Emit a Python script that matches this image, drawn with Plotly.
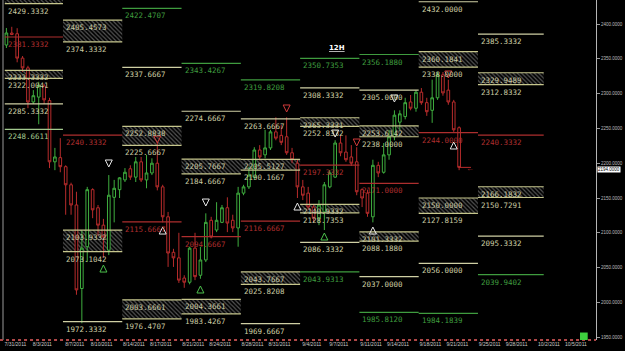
import plotly.graph_objects as go

# ---------------- data ----------------
# 12H candles, bar index counted from Sunday 7/31/2011 (11 bars per trading week)
opens = [2369.8, 2387, 2386, 2351, 2337, 2288, 2295, 2311, 2290, 2202,
         2208, 2195, 2169, 2140, 2020, 2080, 2162, 2136, 2111, 2075,
         2151, 2162, 2176, 2192, 2180, 2202, 2176, 2186, 2200, 2166,
         2123, 2072, 2064, 2035, 2029, 2078, 2039, 2061, 2118, 2104,
         2115, 2136, 2118, 2107, 2157, 2166, 2180, 2219, 2212, 2222,
         2245, 2240, 2238, 2215, 2200, 2166, 2157, 2137, 2121, 2130,
         2166, 2180, 2229, 2216, 2209, 2202, 2162, 2157, 2123, 2197,
         2187, 2212, 2238, 2259, 2267, 2288, 2279, 2302, 2287, 2276,
         2294, 2327, 2305, 2288, 2251]
highs = [2394.3, 2396, 2394, 2354, 2340, 2305, 2317, 2314, 2294, 2222,
         2236, 2197, 2172, 2159, 2104, 2166, 2164, 2140, 2120, 2183,
         2176, 2180, 2193, 2197, 2209, 2209, 2212, 2207, 2229, 2169,
         2130, 2077, 2100, 2039, 2080, 2100, 2080, 2128, 2123, 2144,
         2140, 2151, 2126, 2166, 2169, 2195, 2223, 2226, 2248, 2248,
         2266, 2255, 2266, 2222, 2205, 2176, 2166, 2140, 2147, 2173,
         2190, 2233, 2240, 2240, 2226, 2223, 2164, 2162, 2205, 2202,
         2229, 2248, 2276, 2276, 2294, 2298, 2305, 2308, 2294, 2320,
         2331, 2331, 2320, 2291, 2253]
lows = [2365.5, 2384, 2345, 2331, 2279, 2285, 2256, 2285, 2193, 2190,
        2187, 2126, 2126, 2011, 1970, 2058, 2121, 2096, 2064, 2068,
        2115, 2150, 2173, 2176, 2173, 2173, 2164, 2183, 2161, 2115,
        2051, 2051, 2028, 2021, 2026, 2032, 2034, 2058, 2092, 2101,
        2114, 2101, 2101, 2080, 2154, 2163, 2176, 2204, 2207, 2219,
        2233, 2226, 2212, 2200, 2150, 2147, 2133, 2115, 2111, 2104,
        2164, 2179, 2210, 2202, 2196, 2154, 2137, 2123, 2115, 2180,
        2185, 2205, 2233, 2248, 2263, 2276, 2274, 2284, 2268, 2258,
        2291, 2297, 2284, 2245, 2190]
closes = [2387.1, 2385, 2351, 2337, 2288, 2297, 2312, 2291, 2202, 2209,
          2195, 2169, 2140, 2018, 2078, 2162, 2133, 2111, 2094, 2154,
          2164, 2179, 2187, 2180, 2202, 2176, 2186, 2200, 2166, 2123,
          2071, 2064, 2032, 2029, 2078, 2037, 2061, 2115, 2094, 2118,
          2136, 2114, 2107, 2157, 2166, 2183, 2219, 2209, 2222, 2245,
          2236, 2230, 2215, 2205, 2166, 2154, 2137, 2121, 2140, 2169,
          2186, 2229, 2215, 2205, 2200, 2159, 2150, 2128, 2197, 2186,
          2212, 2238, 2269, 2271, 2287, 2279, 2302, 2287, 2274, 2294,
          2327, 2301, 2288, 2248, 2194]
bars = list(range(len(opens)))

date_labels = ["7/31/2011", "8/3/2011", "8/7/2011", "8/10/2011", "8/14/2011",
               "8/17/2011", "8/21/2011", "8/24/2011", "8/28/2011", "8/31/2011",
               "9/4/2011", "9/7/2011", "9/11/2011", "9/14/2011", "9/18/2011",
               "9/21/2011", "9/25/2011", "9/28/2011", "10/2/2011", "10/5/2011"]
date_bars = [0, 5, 11, 16, 22, 27, 33, 38, 44, 49, 55, 60, 66, 71, 77, 82, 88, 93, 99, 104]

price_ticks = [1950, 2000, 2050, 2100, 2150, 2200, 2250, 2300, 2350, 2400]
last_price = 2194.0

# weekly level blocks (start/end in bar units)
week_start = [-0.3, 10.5, 21.5, 32.5, 43.5, 54.5, 65.5, 76.5, 87.5]
week_end = [10.5, 21.5, 32.5, 43.5, 54.5, 65.5, 76.5, 87.5, 99.7]

# single levels per week: (value, type)  R=resistance(green) P=pivot(khaki) M=mid(red) L=light
week_levels = [
    [(2381.3332, "M"), (2285.3332, "P"), (2248.6611, "L")],
    [(2240.3332, "M"), (1972.3332, "P")],
    [(2422.4707, "R"), (2337.6667, "P"), (2115.6667, "M")],
    [(2343.4267, "R"), (2274.6667, "P"), (2094.6667, "M")],
    [(2319.8208, "R"), (2263.6667, "P"), (2116.6667, "M"), (1969.6667, "P")],
    [(2350.7353, "R"), (2308.3332, "P"), (2197.3332, "M"), (2086.3332, "P"), (2043.9313, "R")],
    [(2356.1880, "R"), (2305.0000, "P"), (2171.0000, "M"), (2037.0000, "P"), (1985.8120, "R")],
    [(2432.0000, "P"), (2244.0000, "M"), (2056.0000, "P"), (1984.1839, "R")],
    [(2440.1291, "R"), (2385.3332, "P"), (2240.3332, "M"), (2095.3332, "P"), (2039.9402, "R")],
]
# hatched zones per week: (top, bottom)
week_zones = [
    [(2450.0, 2429.3332), (2333.3332, 2322.0041)],
    [(2405.4573, 2374.3332), (2103.9332, 2073.1042)],
    [(2252.8838, 2225.6667), (2003.6661, 1976.4707)],
    [(2205.7667, 2184.6667), (2004.3661, 1983.4267)],
    [(2205.5127, 2190.1667), (2043.7667, 2025.8208)],
    [(2265.3331, 2252.8332), (2140.9332, 2128.7353)],
    [(2253.6142, 2238.0000), (2101.3332, 2088.1880)],
    [(2360.1841, 2338.0000), (2150.0000, 2127.8159)],
    [(2329.9489, 2312.8332), (2166.1832, 2150.7291)],
]

# fractal arrows (bar, price)
up_white_bar = [29, 54, 68, 83]
up_white_val = [2108.3, 2142.8, 2108.3, 2230.5]
dn_white_bar = [19, 37, 61, 72]
dn_white_val = [2194.6, 2138.5, 2237.6, 2287.9]
up_green_bar = [18, 36, 59]
up_green_val = [2053.7, 2023.6, 2099.7]
dn_red_bar = [28, 52, 65, 82]
dn_red_val = [2229.0, 2273.6, 2224.7, 2322.4]

# ---------------- styles ----------------
LEVEL_COLORS = {"R": "#3f9c3f", "P": "#cfcfa4", "M": "#ad2e2e", "L": "#a3c98f"}
ZONE_LINE = "#c6c68c"
ZONE_TEXT = "#c9c9a2"
GREEN = "#3fae3f"
RED = "#b82c2c"
LABEL_FONT = dict(family="DejaVu Sans Mono", size=7.5)
YMIN, YMAX = 1946.0, 2434.5

fig = go.Figure()

# hatched zones (bars with pattern)
zx, zy, zb, zw = [], [], [], []
for s, e, zones in zip(week_start, week_end, week_zones):
    for top, bot in zones:
        zx.append((s + e) / 2)
        zw.append(e - s)
        zb.append(bot)
        zy.append(top - bot)
fig.add_trace(go.Bar(
    x=zx, y=zy, base=zb, width=zw,
    marker=dict(color="rgba(0,0,0,0)", line=dict(width=0),
                pattern=dict(shape="\\", fgcolor="#a8a8a8", size=3, solidity=0.4)),
    hoverinfo="skip", showlegend=False))

# zone borders
bx, by = [], []
for s, e, zones in zip(week_start, week_end, week_zones):
    for top, bot in zones:
        for v in (top, bot):
            bx += [s, e, None]
            by += [v, v, None]
fig.add_trace(go.Scatter(x=bx, y=by, mode="lines", line=dict(color=ZONE_LINE, width=1.2),
                         hoverinfo="skip", showlegend=False))

# level lines grouped by type
for kind, col in LEVEL_COLORS.items():
    lx, ly = [], []
    for s, e, levels in zip(week_start, week_end, week_levels):
        for v, k in levels:
            if k == kind:
                lx += [s, e, None]
                ly += [v, v, None]
    fig.add_trace(go.Scatter(x=lx, y=ly, mode="lines", line=dict(color=col, width=1.2),
                             hoverinfo="skip", showlegend=False))

# candles
fig.add_trace(go.Candlestick(
    x=bars, open=opens, high=highs, low=lows, close=closes,
    increasing=dict(line=dict(color=GREEN, width=1), fillcolor="#000000"),
    decreasing=dict(line=dict(color=RED, width=1), fillcolor="#000000"),
    whiskerwidth=0, showlegend=False, hoverinfo="skip"))

# last price pointer
fig.add_trace(go.Scatter(x=[bars[-1], bars[-1] + 2.2], y=[last_price, last_price], mode="lines",
                         line=dict(color=RED, width=1), hoverinfo="skip", showlegend=False))

# fractal arrows
for xs, ys, sym, col in [(up_white_bar, up_white_val, "arrow-up-open", "#e8e8e8"),
                         (dn_white_bar, dn_white_val, "arrow-down-open", "#e8e8e8"),
                         (up_green_bar, up_green_val, "arrow-up-open", "#4cc04c"),
                         (dn_red_bar, dn_red_val, "arrow-down-open", "#d03a3a")]:
    fig.add_trace(go.Scatter(x=xs, y=ys, mode="markers",
                             marker=dict(symbol=sym, size=7, color=col, line=dict(color=col, width=1)),
                             hoverinfo="skip", showlegend=False))

annotations = []
for s, levels, zones in zip(week_start, week_levels, week_zones):
    for v, k in levels:
        if YMIN < v < YMAX:
            annotations.append(dict(x=s, y=v, xref="x", yref="y", text=f"{v:.4f}",
                                    xanchor="left", yanchor="top", yshift=-1, xshift=1,
                                    showarrow=False, font=dict(color=LEVEL_COLORS[k], **LABEL_FONT)))
    for top, bot in zones:
        for v in (top, bot):
            if YMIN < v < YMAX:
                annotations.append(dict(x=s, y=v, xref="x", yref="y", text=f"{v:.4f}",
                                        xanchor="left", yanchor="top", yshift=-1, xshift=1,
                                        showarrow=False, font=dict(color=ZONE_TEXT, **LABEL_FONT)))

annotations.append(dict(x=61.3, y=2365.5, xref="x", yref="y",
                        text="<b><span style='text-decoration:underline'>12H</span></b>",
                        showarrow=False, font=dict(color="#ffffff", size=7, family="DejaVu Sans")))
annotations.append(dict(x=1, y=last_price, xref="paper", yref="y", text=f"{last_price:.4f}",
                        xanchor="left", yanchor="top", xshift=1, yshift=1, showarrow=False,
                        bgcolor="#ffffff", borderpad=0,
                        font=dict(color="#000000", size=4.5, family="Liberation Sans")))
annotations.append(dict(x=bars[-1] + 2.0, y=last_price, xref="x", yref="y", text="←",
                        showarrow=False, font=dict(color=RED, size=8)))

shapes = [
    dict(type="line", xref="paper", yref="paper", x0=0, x1=0, y0=0, y1=1,
         line=dict(color="#9a9a9a", width=1)),
    dict(type="line", xref="paper", yref="paper", x0=-0.005, x1=1, y0=0, y1=0,
         line=dict(color="#b04848", width=2, dash="dot")),
    dict(type="rect", xref="paper", yref="paper", x0=0.973, x1=0.986, y0=0.0, y1=0.022,
         fillcolor="#3ecf3e", line=dict(width=0)),
]

fig.update_layout(
    width=625, height=351,
    margin=dict(l=3, r=29, t=0, b=11),
    paper_bgcolor="#000000", plot_bgcolor="#000000",
    barmode="overlay", showlegend=False,
    annotations=annotations, shapes=shapes,
    xaxis=dict(range=[-0.63, 109.4], tickmode="array", tickvals=date_bars, ticktext=date_labels,
               tickfont=dict(size=5, color="#c8c8c8", family="Liberation Sans"),
               ticks="", ticklabelshift=9, showgrid=False, zeroline=False, showline=False,
               rangeslider=dict(visible=False)),
    yaxis=dict(range=[YMIN, YMAX], side="right", tickmode="array", tickvals=price_ticks,
               ticktext=[f"{p:.4f}" for p in price_ticks],
               tickfont=dict(size=4.5, color="#bdbdbd", family="Liberation Sans"),
               ticks="outside", ticklen=3, tickcolor="#9a9a9a",
               showline=True, linecolor="#b5b5b5", linewidth=1,
               showgrid=False, zeroline=False),
)

fig.write_html("out.html")
